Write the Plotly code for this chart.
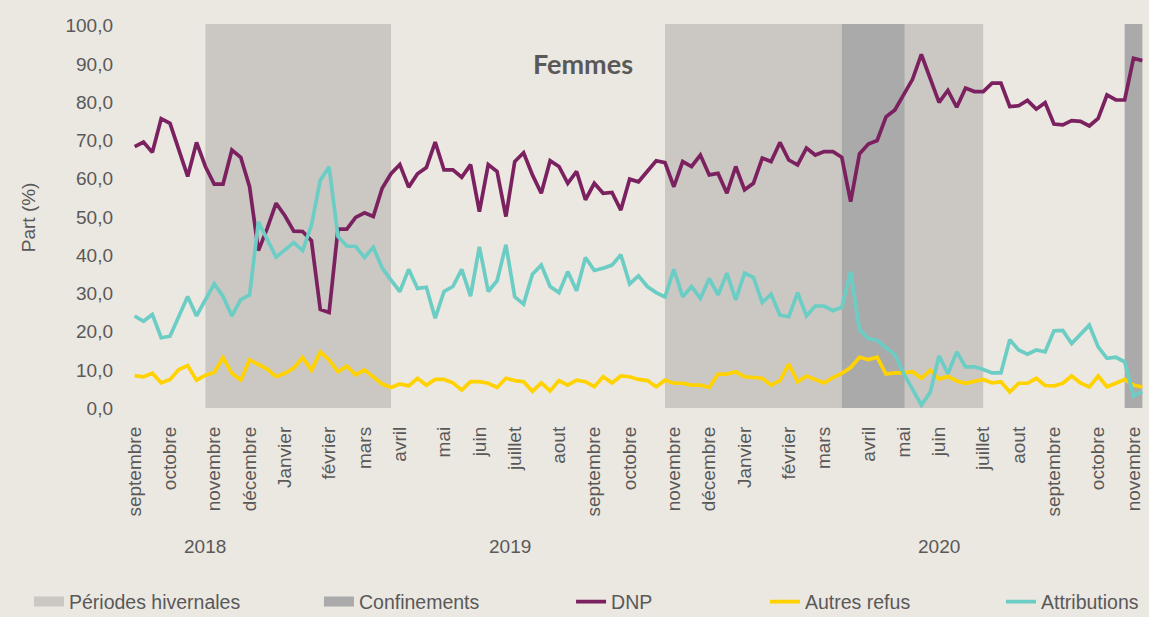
import plotly.graph_objects as go

# ---------------- data (weekly, Sept 2018 -> Nov 2020) ----------------
dnp = [68.4, 69.6, 66.9, 75.7, 74.5, 67.5, 60.6, 69.5, 63.2, 58.6,
       58.6, 67.5, 65.6, 57.9, 41.2, 47.0, 53.6, 50.3, 46.3, 46.2,
       43.8, 25.8, 25.0, 46.8, 46.8, 49.9, 51.1, 50.1, 57.5, 61.3,
       63.7, 57.8, 61.3, 62.9, 69.6, 62.3, 62.3, 60.4, 63.7, 51.4,
       63.7, 61.9, 50.1, 64.5, 66.8, 61.0, 56.2, 64.7, 63.2, 58.8,
       61.9, 54.5, 58.8, 56.2, 56.4, 51.8, 59.9, 59.2, 61.9, 64.7,
       64.2, 57.9, 64.5, 63.2, 66.2, 61.0, 61.4, 56.2, 63.2, 57.1,
       58.8, 65.4, 64.5, 69.5, 64.9, 63.6, 68.0, 66.2, 67.1, 67.1,
       65.6, 54.0, 66.5, 69.1, 70.0, 76.2, 78.0, 82.0, 86.0, 92.5,
       85.9, 80.0, 83.1, 78.7, 83.7, 82.8, 82.8, 85.0, 85.0, 78.9,
       79.1, 80.5, 78.2, 79.9, 74.3, 74.1, 75.2, 75.0, 73.8, 75.8,
       81.9, 80.6, 80.6, 91.5, 90.9]

autres_refus = [8.5, 8.2, 9.1, 6.6, 7.5, 10.1, 11.1, 7.3, 8.6, 9.3,
                13.2, 9.1, 7.3, 12.6, 11.4, 10.2, 8.2, 9.1, 10.5, 13.2,
                9.9, 14.7, 12.6, 9.5, 11.0, 8.7, 10.0, 8.0, 6.3, 5.4,
                6.3, 5.8, 7.8, 6.0, 7.5, 7.5, 6.6, 4.7, 6.9, 6.9,
                6.5, 5.4, 7.8, 7.2, 6.9, 4.4, 6.6, 4.5, 7.2, 6.0,
                7.3, 6.9, 5.6, 8.2, 6.6, 8.4, 8.2, 7.5, 7.2, 5.6,
                7.3, 6.5, 6.5, 6.0, 6.0, 5.4, 8.9, 8.9, 9.5, 8.2,
                8.0, 7.8, 6.0, 7.2, 11.5, 6.9, 8.4, 7.5, 6.6, 8.0,
                9.1, 10.6, 13.3, 12.7, 13.3, 8.9, 9.2, 9.2, 9.5, 7.8,
                9.9, 7.6, 8.3, 7.1, 6.5, 7.0, 7.5, 6.6, 6.9, 4.2,
                6.5, 6.5, 7.8, 5.9, 5.8, 6.5, 8.4, 6.6, 5.5, 8.4,
                5.6, 6.5, 7.5, 6.0, 5.5]

attributions = [24.1, 22.7, 24.5, 18.4, 18.8, 23.8, 29.2, 24.1, 28.5, 32.5,
                29.2, 24.1, 28.4, 29.6, 48.7, 44.0, 39.5, 41.4, 43.3, 41.2,
                47.8, 59.6, 63.1, 44.9, 42.4, 42.3, 39.4, 42.1, 36.6, 33.5,
                30.5, 36.3, 31.3, 31.6, 23.5, 30.5, 31.8, 36.3, 29.3, 42.2,
                30.5, 33.3, 42.7, 29.1, 27.2, 35.0, 37.4, 31.8, 30.2, 35.7,
                30.7, 39.4, 36.0, 36.6, 37.4, 40.1, 32.5, 34.6, 31.8, 30.2,
                29.1, 36.3, 29.1, 31.8, 28.7, 33.9, 29.6, 35.3, 28.3, 35.3,
                34.2, 27.6, 29.8, 24.3, 23.9, 30.2, 24.1, 26.7, 26.7, 25.5,
                26.4, 35.7, 20.5, 18.2, 17.7, 15.8, 14.0, 9.0, 5.0, 0.8,
                4.1, 13.7, 9.0, 14.7, 10.8, 10.8, 10.1, 9.2, 9.2, 17.9,
                15.2, 14.1, 15.2, 14.7, 20.2, 20.3, 16.9, 19.2, 21.7, 16.0,
                13.0, 13.3, 12.1, 3.2, 4.3]

weeks = list(range(len(dnp)))

month_labels = ["septembre", "octobre", "novembre", "décembre", "Janvier", "février",
                "mars", "avril", "mai", "juin", "juillet", "aout", "septembre",
                "octobre", "novembre", "décembre", "Janvier", "février", "mars",
                "avril", "mai", "juin", "juillet", "aout", "septembre", "octobre",
                "novembre"]
month_start_week = [0, 4, 9, 13, 17, 22, 26, 30, 35, 39, 43, 48, 52, 56, 61, 65,
                    69, 74, 78, 83, 87, 91, 96, 100, 104, 109, 113]

year_labels = ["2018", "2019", "2020"]
year_label_week = [8, 42.5, 91]

winter_periods = [(8, 29), (60, 96)]
confinement_periods = [(80, 87.1), (112, 114)]

y_ticks = [0, 10, 20, 30, 40, 50, 60, 70, 80, 90, 100]

# ---------------- style ----------------
BG = "#EBE7E1"
WINTER = "#CBC8C4"
CONF = "#AAAAAA"
C_DNP = "#7B2160"
C_AUTRES = "#FFD200"
C_ATTR = "#6CCDC4"
TXT = "#595959"
FONT = "Liberation Sans, Arial, sans-serif"

fig = go.Figure()

# legend-only entries for shaded periods
fig.add_trace(go.Scatter(x=[None], y=[None], mode="lines", name="Périodes hivernales",
                         line=dict(color=WINTER, width=12), legend="legend", showlegend=True))
fig.add_trace(go.Scatter(x=[None], y=[None], mode="lines", name="Confinements",
                         line=dict(color=CONF, width=12), legend="legend2", showlegend=True))

fig.add_trace(go.Scatter(x=weeks, y=dnp, mode="lines", name="DNP",
                         line=dict(color=C_DNP, width=3.7), legend="legend3"))
fig.add_trace(go.Scatter(x=weeks, y=autres_refus, mode="lines", name="Autres refus",
                         line=dict(color=C_AUTRES, width=3.7), legend="legend4"))
fig.add_trace(go.Scatter(x=weeks, y=attributions, mode="lines", name="Attributions",
                         line=dict(color=C_ATTR, width=3.7), legend="legend5"))

shapes = []
for x0, x1 in winter_periods:
    shapes.append(dict(type="rect", xref="x", yref="y", x0=x0, x1=x1, y0=0, y1=100.5,
                       fillcolor=WINTER, line=dict(width=0), layer="below"))
for x0, x1 in confinement_periods:
    shapes.append(dict(type="rect", xref="x", yref="y", x0=x0, x1=x1, y0=0, y1=100.5,
                       fillcolor=CONF, line=dict(width=0), layer="below"))

annotations = [
    dict(text="<b>Femmes</b>", xref="paper", yref="paper", x=0.445, y=0.894,
         xanchor="center", yanchor="middle", showarrow=False,
         font=dict(family="Lato, Open Sans, sans-serif", size=27, color=TXT)),
    dict(text="Part (%)", xref="paper", yref="paper", x=-0.1026, y=0.497, textangle=-90,
         xanchor="center", yanchor="middle", showarrow=False,
         font=dict(family=FONT, size=19, color=TXT)),
]
for lbl, wk in zip(year_labels, year_label_week):
    annotations.append(dict(text=lbl, xref="x", yref="paper", x=wk, y=-0.351,
                            xanchor="center", yanchor="middle", showarrow=False,
                            font=dict(family=FONT, size=19, color=TXT)))

leg_common = dict(orientation="h", xref="container", yref="container",
                  yanchor="middle", y=0.0245, xanchor="left",
                  bgcolor="rgba(0,0,0,0)", font=dict(family=FONT, size=19.5, color=TXT))

fig.update_layout(
    width=1149, height=617,
    showlegend=True,
    margin=dict(l=132, r=4, t=22, b=207, autoexpand=False),
    paper_bgcolor=BG, plot_bgcolor=BG,
    font=dict(family=FONT, size=19, color=TXT),
    separators=", ",
    shapes=shapes,
    annotations=annotations,
    legend=dict(x=0.0252, **leg_common),
    legend2=dict(x=0.2776, **leg_common),
    legend3=dict(x=0.497, **leg_common),
    legend4=dict(x=0.6658, **leg_common),
    legend5=dict(x=0.8712, **leg_common),
    xaxis=dict(range=[-0.3, 114.3], showgrid=False, zeroline=False, showline=False,
               tickmode="array", tickvals=month_start_week, ticktext=month_labels,
               tickangle=-90, ticks="", ticklabelstandoff=12, automargin=False,
               tickfont=dict(family=FONT, size=19, color=TXT)),
    yaxis=dict(range=[-0.5, 101], showgrid=False, zeroline=False, showline=False,
               tickmode="array", tickvals=y_ticks, tickformat=".1f", ticks="",
               ticklabelstandoff=18, automargin=False,
               tickfont=dict(family=FONT, size=19, color=TXT)),
)

fig.write_html("out.html", config={"displayModeBar": False},
               post_script="document.body.style.margin='0';")
